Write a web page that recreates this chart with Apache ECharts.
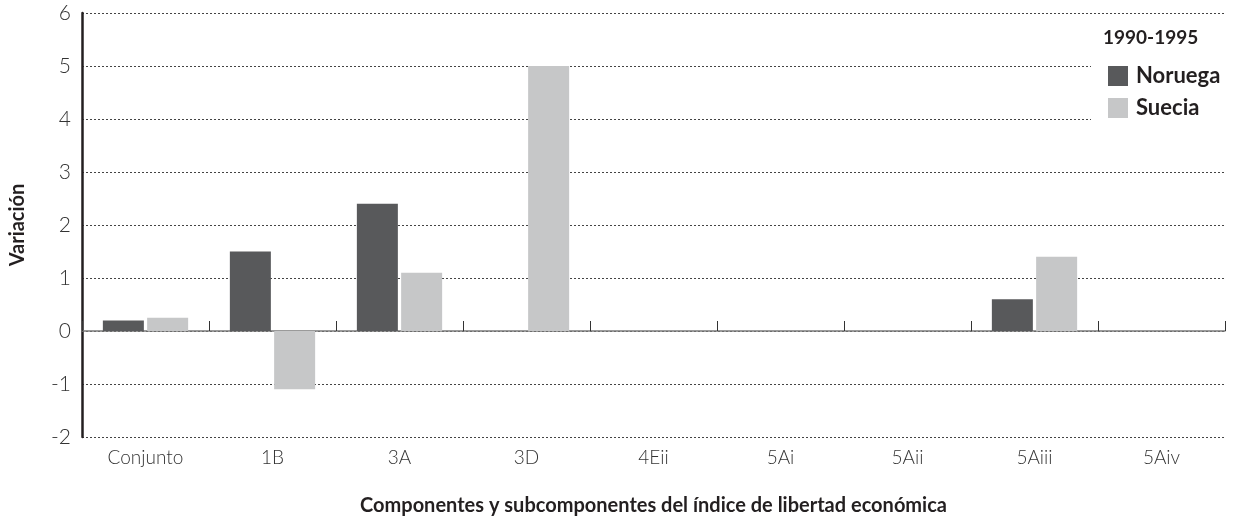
<!DOCTYPE html>
<html>
<head>
<meta charset="utf-8">
<script src="https://cdn.jsdelivr.net/npm/echarts@6/dist/echarts.min.js"></script>
<style>
  html, body { margin: 0; padding: 0; background: #fff; }
  #main { width: 1239px; height: 521px; }
</style>
</head>
<body>
<div id="main"></div>
<script>
// categorias y valores
var categorias = ['Conjunto', '1B', '3A', '3D', '4Eii', '5Ai', '5Aii', '5Aiii', '5Aiv'];
var noruega = [0.2, 1.5, 2.4, null, null, null, null, 0.6, null];
var suecia = [0.25, -1.1, 1.1, 5.0, null, null, null, 1.4, null];
var yTicks = { min: -2, max: 6, interval: 1 };

var fuente = 'Lato, "Open Sans", sans-serif';
var myChart = echarts.init(document.getElementById('main'));

var option = {
    backgroundColor: '#fff',
    animation: false,
    textStyle: { fontFamily: fuente },
    title: {
        text: '1990-1995',
        left: 1098,
        top: 23,
        z: 8,
        textStyle: { fontSize: 19, fontWeight: 'bold', color: '#231f20', fontFamily: fuente }
    },
    legend: {
        orient: 'vertical',
        left: 1103,
        top: 60,
        itemWidth: 20,
        itemHeight: 20,
        itemGap: 10,
        icon: 'rect',
        data: ['Noruega', 'Suecia'],
        textStyle: { fontSize: 22, fontWeight: 'bold', color: '#231f20', padding: [0, 0, 0, 3], fontFamily: fuente }
    },
    graphic: [{
        type: 'rect',
        z: 1,
        shape: { x: 1091, y: 18, width: 134, height: 106 },
        style: { fill: '#fff' }
    }],
    grid: {
        left: 81,
        right: 14,
        top: 13,
        bottom: 82
    },
    xAxis: [{
        type: 'category',
        data: categorias,
        position: 'bottom',
        axisLine: { onZero: true, lineStyle: { color: '#7a7a7a', width: 1.5 } },
        axisTick: { show: true, inside: true, length: 10, lineStyle: { color: '#333', width: 1 } },
        axisLabel: { show: false },
        splitLine: { show: false }
    }, {
        type: 'category',
        data: categorias,
        position: 'bottom',
        axisLine: { show: false, onZero: false },
        axisTick: { show: false },
        axisLabel: { show: true, fontSize: 19, fontWeight: 300, color: '#333', margin: 11, fontFamily: fuente },
        name: 'Componentes y subcomponentes del índice de libertad económica',
        nameLocation: 'middle',
        nameGap: 59,
        nameTextStyle: { fontSize: 20, fontWeight: 'bold', color: '#231f20', fontFamily: fuente }
    }],
    yAxis: {
        type: 'value',
        min: yTicks.min,
        max: yTicks.max,
        interval: yTicks.interval,
        axisLine: { show: true, onZero: false, lineStyle: { color: '#231f20', width: 2.5 } },
        axisTick: { show: false },
        axisLabel: { fontSize: 21, fontWeight: 300, color: '#333', margin: 11, fontFamily: fuente },
        splitLine: { show: true, lineStyle: { color: '#444', width: 1, type: [2, 2] } },
        name: 'Variación',
        nameLocation: 'middle',
        nameGap: 54,
        nameTextStyle: { fontSize: 20, fontWeight: 'bold', color: '#231f20', fontFamily: fuente }
    },
    series: [{
        name: 'Noruega',
        type: 'bar',
        xAxisIndex: 0,
        data: noruega,
        barWidth: 41,
        barGap: '8%',
        itemStyle: { color: '#58595b' }
    }, {
        name: 'Suecia',
        type: 'bar',
        xAxisIndex: 0,
        data: suecia,
        barWidth: 41,
        itemStyle: { color: '#c6c7c8' }
    }]
};
myChart.setOption(option);
</script>
</body>
</html>
